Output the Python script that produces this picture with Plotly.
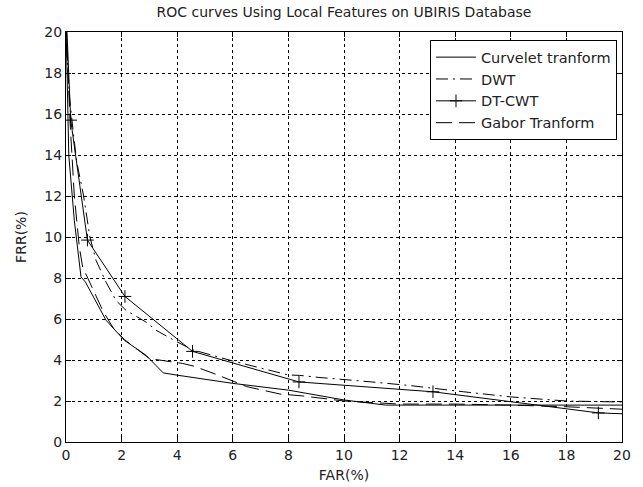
import plotly.graph_objects as go

# ---- data ----
curvelet_far = [0.0, 0.03, 0.1, 0.3, 0.54, 0.7, 1.44, 2.1, 2.88, 3.5, 4.0, 6.0, 8.0, 10.0, 11.5, 20.0]
curvelet_frr = [20.5, 18.0, 14.0, 10.8, 8.05, 7.8, 5.94, 4.96, 4.23, 3.37, 3.26, 2.86, 2.53, 2.05, 1.8, 1.8]

dwt_far = [0.0, 0.05, 0.14, 0.38, 0.62, 0.86, 1.08, 1.44, 1.8, 2.16, 2.88, 3.24, 4.0, 4.55, 6.0,
           8.0, 8.4, 9.1, 11.0, 12.4, 14.3, 16.0, 18.0, 20.0]
dwt_frr = [20.5, 18.5, 16.6, 13.7, 12.1, 10.0, 8.86, 7.8, 6.9, 6.42, 5.85, 5.45, 4.88, 4.5, 3.95,
           3.27, 3.25, 3.15, 2.93, 2.75, 2.45, 2.2, 2.0, 1.95]

dtcwt_far = [0.02, 0.17, 0.77, 2.12, 4.55, 8.38, 13.2, 19.15, 21.5]
dtcwt_frr = [20.5, 15.7, 9.85, 7.1, 4.42, 2.93, 2.45, 1.42, 1.3]

gabor_far = [0.0, 0.05, 0.15, 0.3, 0.48, 0.6, 0.96, 1.32, 1.68, 2.1, 3.0, 4.2, 4.6, 5.4, 6.5, 7.7,
             8.5, 10.0, 12.0, 14.0, 16.0, 18.0, 20.0]
gabor_frr = [20.5, 18.5, 15.5, 12.0, 9.5, 8.53, 7.48, 6.42, 5.6, 5.0, 4.07, 3.83, 3.7, 3.3, 2.7, 2.34,
             2.25, 2.0, 1.85, 1.85, 1.8, 1.72, 1.6]

tick_vals = [0, 2, 4, 6, 8, 10, 12, 14, 16, 18, 20]

FONT = "DejaVu Sans, Liberation Sans, sans-serif"
TXT = "#222"

fig = go.Figure()
fig.add_trace(go.Scatter(x=curvelet_far, y=curvelet_frr, mode="lines", name="Curvelet tranform",
                         line=dict(color="black", width=1)))
fig.add_trace(go.Scatter(x=dwt_far, y=dwt_frr, mode="lines", name="DWT",
                         line=dict(color="black", width=1, dash="12px,5px,2px,5px")))
fig.add_trace(go.Scatter(x=dtcwt_far, y=dtcwt_frr, mode="lines+markers", name="DT-CWT",
                         line=dict(color="black", width=1),
                         marker=dict(symbol="cross-thin", size=9, color="black",
                                     line=dict(color="black", width=1))))
fig.add_trace(go.Scatter(x=gabor_far, y=gabor_frr, mode="lines", name="Gabor Tranform",
                         line=dict(color="black", width=1, dash="16px,7px")))

axis_common = dict(
    range=[0, 20], tickvals=tick_vals, ticks="inside", ticklen=5, tickcolor="black",
    showline=True, linecolor="black", linewidth=1, mirror="ticks",
    showgrid=True, gridcolor="black", gridwidth=1, griddash="3px,3px",
    zeroline=False, automargin=False,
    tickfont=dict(family=FONT, size=14, color=TXT),
)

fig.update_xaxes(**axis_common, title=dict(text="FAR(%)", font=dict(family=FONT, size=14, color=TXT),
                                           standoff=8))
fig.update_yaxes(**axis_common, title=dict(text="FRR(%)", font=dict(family=FONT, size=14, color=TXT),
                                           standoff=14))

fig.update_layout(
    width=643, height=487,
    margin=dict(l=66, r=21, t=32, b=45),
    paper_bgcolor="white", plot_bgcolor="white",
    title=dict(text="ROC curves Using Local Features on UBIRIS Database",
               font=dict(family=FONT, size=14, color=TXT),
               x=0.535, xanchor="center", y=0.975, yanchor="middle"),
    legend=dict(x=0.991, y=0.98, xanchor="right", yanchor="top",
                bgcolor="white", bordercolor="black", borderwidth=1,
                font=dict(family=FONT, size=14.5, color=TXT),
                itemwidth=40, tracegroupgap=0),
    showlegend=True,
)

fig.write_html("out.html")
